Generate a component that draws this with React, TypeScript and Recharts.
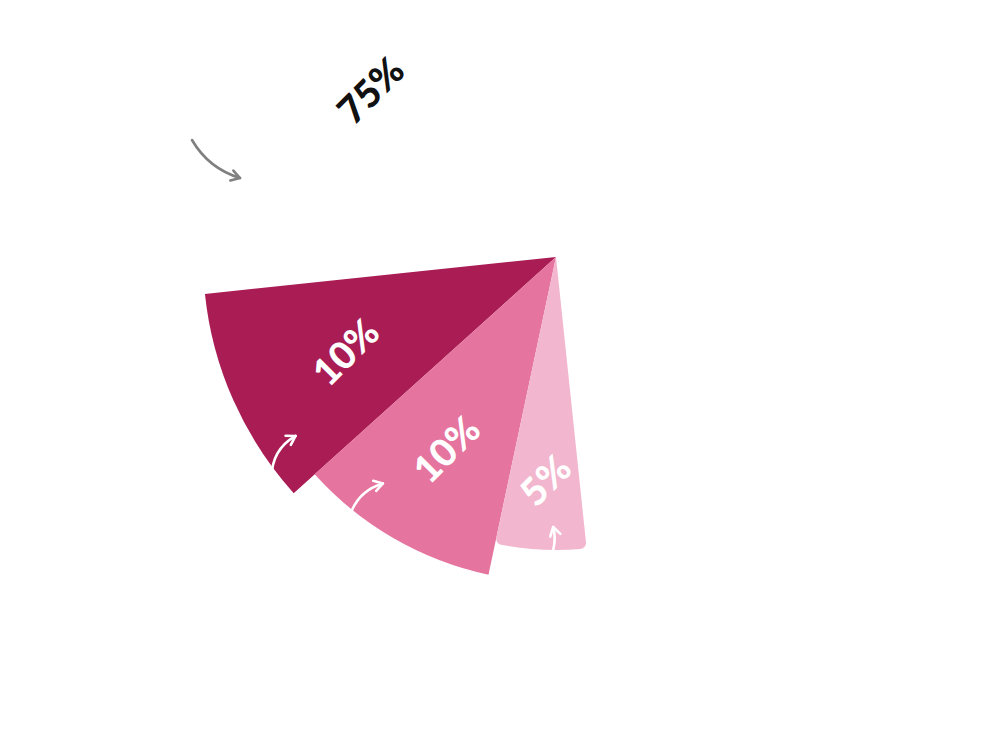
import { Cell, Pie, PieChart } from "recharts";

const shares = ["10%", "10%", "5%", "75%"];
const values = [10, 10, 5, 75];
const colors = ["#A91C54", "#E5749F", "#F2B6CE", "#FFFFFF"];

const data = values.map((v, i) => ({ name: shares[i], value: v }));

const R = 353;
// each coloured wedge reaches a little less far than the one before it
const reach = [1, 0.92, 0.83];
const labelAt = [0.655, 0.68, 0.76];

const RAD = Math.PI / 180;
const polar = (cx: number, cy: number, r: number, deg: number) => [
  cx + r * Math.cos(-deg * RAD),
  cy + r * Math.sin(-deg * RAD),
];

// little hand-drawn pointers that sit inside each slice
const pointers: Record<number, { r: number; a: number; dx: number; dy: number; bend: number }> = {
  0: { r: 316, a: 214.5, dx: -24, dy: 42, bend: 14 },
  1: { r: 285, a: 232.6, dx: -33, dy: 32, bend: 12 },
  2: { r: 270, a: 269.4, dx: 0, dy: 23, bend: -3 },
};

function Arrow({ x, y, dx, dy, bend, color }: { x: number; y: number; dx: number; dy: number; bend: number; color: string }) {
  const tx = x + dx, ty = y + dy;
  const mx = (x + tx) / 2, my = (y + ty) / 2;
  const len = Math.hypot(dx, dy) || 1;
  const nx = -dy / len, ny = dx / len;
  const qx = mx + nx * bend, qy = my + ny * bend;
  const ang = Math.atan2(y - qy, x - qx);
  const h = 10;
  const l1 = [x - h * Math.cos(ang - 0.55), y - h * Math.sin(ang - 0.55)];
  const l2 = [x - h * Math.cos(ang + 0.55), y - h * Math.sin(ang + 0.55)];
  return (
    <g fill="none" stroke={color} strokeWidth={2.6} strokeLinecap="round" strokeLinejoin="round">
      <path d={`M${tx},${ty} Q${qx},${qy} ${x},${y}`} />
      <path d={`M${l1[0]},${l1[1]} L${x},${y} L${l2[0]},${l2[1]}`} />
    </g>
  );
}

const textStyle = { fontFamily: "Lato, 'Open Sans', sans-serif", fontWeight: 900, fontSize: 38 };

const makeLabel = (layer: number) => (props: any) => {
  const { cx, cy, midAngle, index, name, endAngle } = props;
  const big = index === 3;
  if (big && layer !== 0) return null;
  if (!big && index !== layer) return null;
  const angle = big ? endAngle - 48 : midAngle;
  const r = big ? R * 0.71 : R * reach[layer] * labelAt[layer];
  const [x, y] = polar(cx, cy, r, angle);
  const p = pointers[index];
  let arrow;
  if (p) {
    const [hx, hy] = polar(cx, cy, p.r, p.a);
    arrow = <Arrow x={hx} y={hy} dx={p.dx} dy={p.dy} bend={p.bend} color="#FFFFFF" />;
  } else {
    arrow = <Arrow x={cx - 316} y={cy - 79} dx={-48} dy={-38} bend={-12} color="#808080" />;
  }
  return (
    <g>
      {arrow}
      <text
        x={x}
        y={y}
        fill={big ? "#111111" : "#FFFFFF"}
        textAnchor="middle"
        dominantBaseline="central"
        transform={`rotate(-45, ${x}, ${y})`}
        style={textStyle}
      >
        {name}
      </text>
    </g>
  );
};

export default function App() {
  return (
    <div style={{ width: 968, height: 725, background: "#FFFFFF" }}>
      <PieChart width={968} height={725} margin={{ top: 0, right: 0, bottom: 0, left: 0 }}>
        {reach.map((k, layer) => (
          <Pie
            key={layer}
            data={data}
            dataKey="value"
            nameKey="name"
            cx={548}
            cy={249}
            outerRadius={R * k}
            startAngle={186}
            endAngle={546}
            cornerRadius={layer === 2 ? 6 : 0}
            stroke="none"
            labelLine={false}
            label={makeLabel(layer)}
            isAnimationActive={false}
          >
            {data.map((d, i) => (
              <Cell key={d.name + i} fill={i === layer ? colors[i] : "transparent"} />
            ))}
          </Pie>
        ))}
      </PieChart>
    </div>
  );
}
